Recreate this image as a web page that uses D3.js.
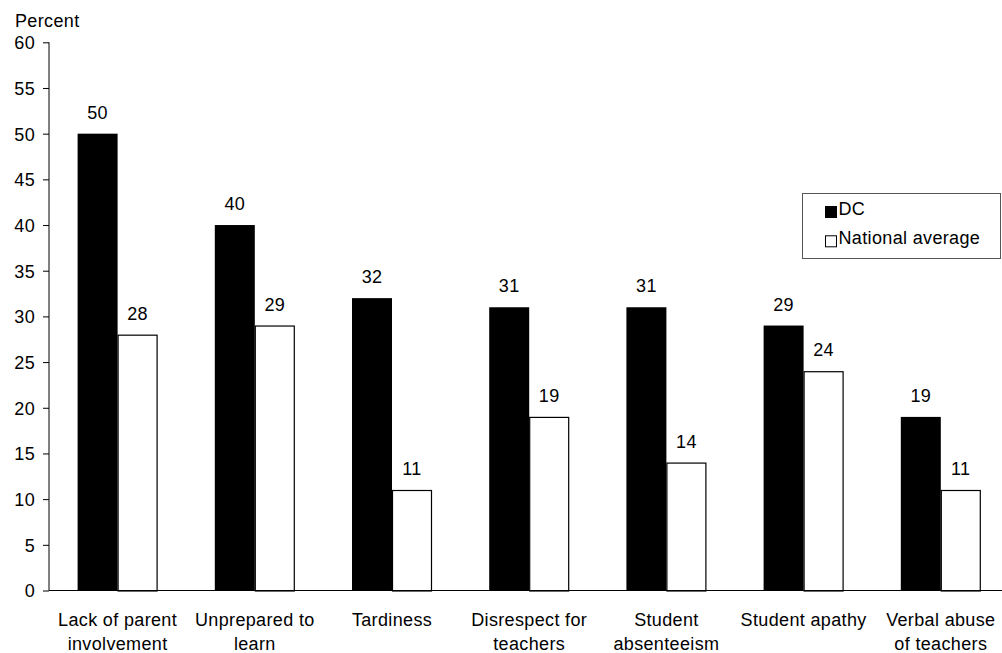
<!DOCTYPE html>
<html>
<head>
<meta charset="utf-8">
<script src="https://cdn.jsdelivr.net/npm/d3@7/dist/d3.min.js"></script>
<style>
  html, body { margin: 0; padding: 0; background: #fff; }
  svg { display: block; font-family: "Liberation Sans", Arial, sans-serif; }
  svg text { letter-spacing: 0.35px; }
</style>
</head>
<body>
<svg id="chart" width="1002" height="653"></svg>
<script>
// Problems reported by teachers: DC vs national average (percent)
const categories = [
  ["Lack of parent", "involvement"],
  ["Unprepared to", "learn"],
  ["Tardiness"],
  ["Disrespect for", "teachers"],
  ["Student", "absenteeism"],
  ["Student apathy"],
  ["Verbal abuse", "of teachers"]
];
const seriesNames = ["DC", "National average"];
const dcValues = [50, 40, 32, 31, 31, 29, 19];
const nationalValues = [28, 29, 11, 19, 14, 24, 11];
const yTicks = [0, 5, 10, 15, 20, 25, 30, 35, 40, 45, 50, 55, 60];

const FONT = 18;
const svg = d3.select("#chart");
const keys = categories.map(c => c.join(" "));
const seriesValues = [dcValues, nationalValues];
const fills = ["#000000", "#ffffff"];

const axisX = 49;
const x0 = d3.scaleBand()
  .domain(keys)
  .range([axisX, axisX + 7 * 137.2])
  .paddingInner(0.417)
  .paddingOuter(0.2085);
const x1 = d3.scaleBand()
  .domain(seriesNames)
  .range([0, x0.bandwidth()]);
const y = d3.scaleLinear().domain([0, 60]).range([590.5, 42.3]);

// Bars
const groups = svg.append("g").selectAll("g")
  .data(keys)
  .join("g")
  .attr("transform", d => `translate(${x0(d)},0)`);

groups.selectAll("rect")
  .data((d, i) => seriesNames.map((s, j) => ({ s, j, v: seriesValues[j][i] })))
  .join("rect")
  .attr("x", d => x1(d.s) + (d.j === 1 ? 0.5 : 0))
  .attr("width", d => x1.bandwidth() - (d.j === 1 ? 1 : 0))
  .attr("y", d => y(d.v) + (d.j === 1 ? 0.5 : 0))
  .attr("height", d => y(0) - y(d.v))
  .attr("fill", d => fills[d.j])
  .attr("stroke", d => d.j === 1 ? "#000" : "none")
  .attr("stroke-width", 1.2);

// Value labels
groups.selectAll("text")
  .data((d, i) => seriesNames.map((s, j) => ({ s, j, v: seriesValues[j][i] })))
  .join("text")
  .attr("x", d => x1(d.s) + x1.bandwidth() / 2)
  .attr("y", d => y(d.v) - 15)
  .attr("text-anchor", "middle")
  .attr("font-size", FONT)
  .attr("fill", "#000")
  .text(d => d.v);

// Y axis
const yAxis = d3.axisLeft(y).tickValues(yTicks).tickSize(6).tickPadding(8);
const gy = svg.append("g")
  .attr("transform", `translate(${axisX},0)`)
  .call(yAxis);
gy.select(".domain").attr("stroke", "#000").attr("d", `M0,${y(60)}V${y(0)}`);
gy.selectAll(".tick line").attr("stroke", "#000");
gy.selectAll(".tick text")
  .attr("font-size", FONT)
  .attr("font-family", "Liberation Sans, Arial, sans-serif")
  .attr("fill", "#000")
  .attr("dy", "0.36em");

// X baseline
svg.append("line")
  .attr("x1", axisX).attr("x2", 1002)
  .attr("y1", y(0)).attr("y2", y(0))
  .attr("stroke", "#000").attr("stroke-width", 1.2);

// Category labels
const catLabels = svg.append("g").selectAll("text")
  .data(categories)
  .join("text")
  .attr("text-anchor", "middle")
  .attr("font-size", FONT)
  .attr("fill", "#000")
  .attr("x", (d, i) => x0(keys[i]) + x0.bandwidth() / 2)
  .attr("y", 626);
catLabels.selectAll("tspan")
  .data(d => d)
  .join("tspan")
  .attr("x", function () { return this.parentNode.getAttribute("x"); })
  .attr("dy", (d, i) => i === 0 ? 0 : 24)
  .text(d => d);

// Axis title
svg.append("text")
  .attr("x", 15).attr("y", 27)
  .attr("font-size", FONT)
  .attr("fill", "#000")
  .text("Percent");

// Legend
const legend = svg.append("g");
legend.append("rect")
  .attr("x", 802.5).attr("y", 193.5)
  .attr("width", 198).attr("height", 65)
  .attr("fill", "#fff").attr("stroke", "#555").attr("stroke-width", 1);
seriesNames.forEach((s, j) => {
  legend.append("rect")
    .attr("x", 825.5).attr("y", 206.5 + j * 29.3)
    .attr("width", 11).attr("height", 11)
    .attr("fill", fills[j]).attr("stroke", "#000").attr("stroke-width", 1);
  legend.append("text")
    .attr("x", 838.5).attr("y", 215 + j * 29.3)
    .attr("font-size", FONT)
    .attr("fill", "#000")
    .text(s);
});
</script>
</body>
</html>
